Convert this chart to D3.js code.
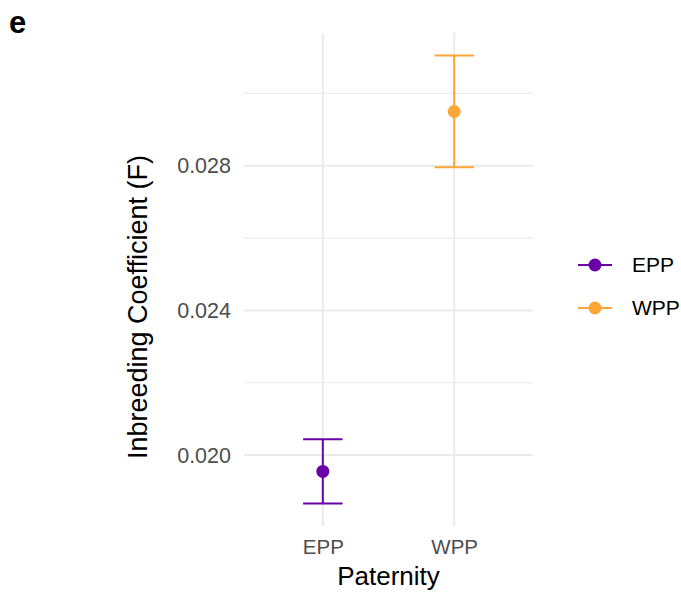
<!DOCTYPE html>
<html>
<head>
<meta charset="utf-8">
<script src="https://cdn.jsdelivr.net/npm/d3@7"></script>
<style>
  body { margin: 0; background: #fff; }
  text { font-family: "Liberation Sans", Arial, Helvetica, sans-serif; }
</style>
</head>
<body>
<div id="chart"></div>
<script>
var svgWidth = 681;
var svgHeight = 593;

// data
var paternity = ["EPP", "WPP"];
var meanF = [0.01955, 0.02950];
var lowerF = [0.01866, 0.02796];
var upperF = [0.02044, 0.03105];
var colors = ["#6a00a8", "#fca636"];
var yTicks = [0.020, 0.024, 0.028];
var yMinor = [0.018, 0.022, 0.026, 0.030];

var panel = { left: 244, right: 533, top: 33, bottom: 526 };

var svg = d3.select("#chart")
  .append("svg")
  .attr("width", svgWidth)
  .attr("height", svgHeight);

var rows = paternity.map(function(p, i) {
  return { group: p, mean: meanF[i], lo: lowerF[i], hi: upperF[i], color: colors[i] };
});

// ggplot style 5% expansion on the data range
var yMin = d3.min(lowerF), yMax = d3.max(upperF);
var pad = (yMax - yMin) * 0.05;

var x = d3.scalePoint()
  .domain(paternity)
  .range([panel.left, panel.right])
  .padding(0.6);

var y = d3.scaleLinear()
  .domain([yMin - pad, yMax + pad])
  .range([panel.bottom, panel.top]);

var grid = svg.append("g");

// minor gridlines
grid.selectAll(".minor")
  .data(yMinor.filter(function(v) { return v >= y.domain()[0] && v <= y.domain()[1]; }))
  .enter()
  .append("line")
  .attr("x1", panel.left)
  .attr("x2", panel.right)
  .attr("y1", d => y(d))
  .attr("y2", d => y(d))
  .attr("stroke", "#ebebeb")
  .attr("stroke-width", 1.2);

// major gridlines
grid.selectAll(".majorY")
  .data(yTicks)
  .enter()
  .append("line")
  .attr("x1", panel.left)
  .attr("x2", panel.right)
  .attr("y1", d => y(d))
  .attr("y2", d => y(d))
  .attr("stroke", "#ebebeb")
  .attr("stroke-width", 2);

grid.selectAll(".majorX")
  .data(paternity)
  .enter()
  .append("line")
  .attr("x1", d => x(d))
  .attr("x2", d => x(d))
  .attr("y1", panel.top)
  .attr("y2", panel.bottom)
  .attr("stroke", "#ebebeb")
  .attr("stroke-width", 2);

// axes (no domain line, no ticks)
var yAxis = d3.axisLeft(y)
  .tickValues(yTicks)
  .tickSize(0)
  .tickPadding(13)
  .tickFormat(d3.format(".3f"));

var yg = svg.append("g")
  .attr("transform", `translate(${panel.left}, 0)`)
  .call(yAxis);
yg.select(".domain").remove();
yg.selectAll("text")
  .attr("font-family", "Liberation Sans, Arial, sans-serif")
  .attr("font-size", "21.5px")
  .attr("fill", "#4d4d4d");

var xAxis = d3.axisBottom(x).tickSize(0).tickPadding(13);
var xg = svg.append("g")
  .attr("transform", `translate(0, ${panel.bottom})`)
  .call(xAxis);
xg.select(".domain").remove();
xg.selectAll("text")
  .attr("font-family", "Liberation Sans, Arial, sans-serif")
  .attr("font-size", "20.5px")
  .attr("fill", "#4d4d4d");

// error bars
var capHalf = (x.step() * 0.3) / 2;
var bars = svg.selectAll(".bar")
  .data(rows)
  .enter()
  .append("g");

bars.append("line")
  .attr("x1", d => x(d.group))
  .attr("x2", d => x(d.group))
  .attr("y1", d => y(d.lo))
  .attr("y2", d => y(d.hi))
  .attr("stroke", d => d.color)
  .attr("stroke-width", 2);

bars.append("line")
  .attr("x1", d => x(d.group) - capHalf)
  .attr("x2", d => x(d.group) + capHalf)
  .attr("y1", d => y(d.hi))
  .attr("y2", d => y(d.hi))
  .attr("stroke", d => d.color)
  .attr("stroke-width", 2);

bars.append("line")
  .attr("x1", d => x(d.group) - capHalf)
  .attr("x2", d => x(d.group) + capHalf)
  .attr("y1", d => y(d.lo))
  .attr("y2", d => y(d.lo))
  .attr("stroke", d => d.color)
  .attr("stroke-width", 2);

bars.append("circle")
  .attr("cx", d => x(d.group))
  .attr("cy", d => y(d.mean))
  .attr("r", 6.5)
  .attr("fill", d => d.color);

// axis titles
svg.append("text")
  .attr("transform", "translate(147, 307) rotate(-90)")
  .attr("text-anchor", "middle")
  .attr("font-size", "27px")
  .attr("fill", "#000")
  .text("Inbreeding Coefficient (F)");

svg.append("text")
  .attr("x", (panel.left + panel.right) / 2)
  .attr("y", 585)
  .attr("text-anchor", "middle")
  .attr("font-size", "26px")
  .attr("fill", "#000")
  .text("Paternity");

// panel tag
svg.append("text")
  .attr("x", 9)
  .attr("y", 33)
  .attr("font-size", "31px")
  .attr("font-weight", "bold")
  .attr("fill", "#000")
  .text("e");

// legend
var legend = svg.selectAll(".legend")
  .data(rows)
  .enter()
  .append("g")
  .attr("transform", (d, i) => `translate(578, ${265 + i * 43})`);

legend.append("line")
  .attr("x1", 0)
  .attr("x2", 34)
  .attr("stroke", d => d.color)
  .attr("stroke-width", 2);

legend.append("circle")
  .attr("cx", 17)
  .attr("r", 6.5)
  .attr("fill", d => d.color);

legend.append("text")
  .attr("x", 54)
  .attr("dy", "0.35em")
  .attr("font-size", "21px")
  .attr("fill", "#000")
  .text(d => d.group);
</script>
</body>
</html>
